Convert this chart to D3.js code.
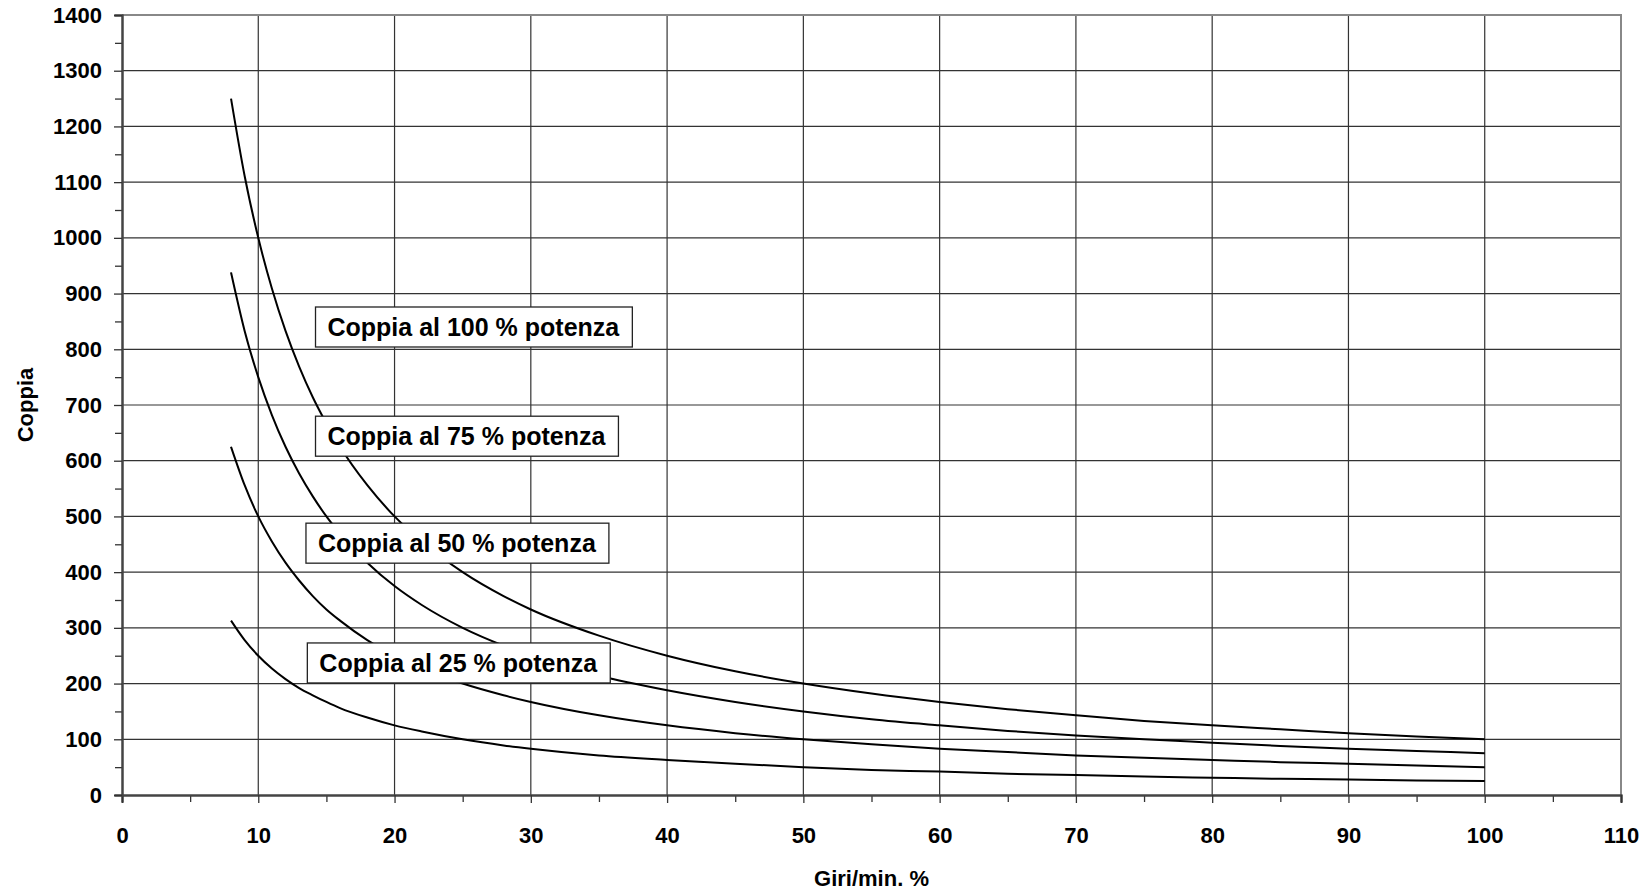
<!DOCTYPE html>
<html>
<head>
<meta charset="utf-8">
<script src="https://cdn.jsdelivr.net/npm/d3@7"></script>
<style>
  body { margin: 0; background: #fff; }
  svg text { font-family: "Liberation Sans", Arial, sans-serif; font-weight: bold; fill: #000; }
</style>
</head>
<body>
<svg width="1652" height="891"></svg>
<script>
// Giri/min. % (x)
const giri = [8, 9, 10, 11, 12, 13, 14, 15, 16, 18, 20, 22, 25, 28, 30, 35, 40, 45, 50, 55, 60, 65, 70, 75, 80, 85, 90, 95, 100]

// Coppia for each power level
const coppia100 = [1250, 1111, 1000, 909, 833, 769, 714, 667, 625, 556, 500, 455, 400, 357, 333, 286, 250, 222, 200, 182, 167, 154, 143, 133, 125, 118, 111, 105, 100]
const coppia75 = [938, 833, 750, 682, 625, 577, 536, 500, 469, 417, 375, 341, 300, 268, 250, 214, 188, 167, 150, 136, 125, 115, 107, 100, 94, 88, 83, 79, 75]
const coppia50 = [625, 556, 500, 455, 417, 385, 357, 333, 313, 278, 250, 227, 200, 179, 167, 143, 125, 111, 100, 91, 83, 77, 71, 67, 63, 59, 56, 53, 50]
const coppia25 = [313, 278, 250, 227, 208, 192, 179, 167, 156, 139, 125, 114, 100, 89, 83, 71, 63, 56, 50, 45, 42, 38, 36, 33, 31, 29, 28, 26, 25]

// label boxes: text and anchor (left x, centre y) in data units
const labelTexts = ["Coppia al 100 % potenza", "Coppia al 75 % potenza", "Coppia al 50 % potenza", "Coppia al 25 % potenza"]
const labelX = [14.2, 14.2, 13.5, 13.6]
const labelY = [840, 644, 452, 237]

const xTicks = d3.range(0, 111, 10)
const yTicks = d3.range(0, 1401, 100)

const series = [coppia100, coppia75, coppia50, coppia25]

const margin = { left: 122, right: 31, top: 15, bottom: 96 }
const W = 1652, H = 891
const w = W - margin.left - margin.right
const h = H - margin.top - margin.bottom

const svg = d3.select('svg')

const x = d3.scaleLinear().domain([0, 110]).range([margin.left, margin.left + w])
const y = d3.scaleLinear().domain([0, 1400]).range([margin.top + h, margin.top])

// grid
const grid = svg.append('g').attr('class', 'grid')
grid.selectAll('line.h')
  .data(yTicks.slice(1))
  .enter().append('line')
  .attr('x1', x(0)).attr('x2', x(110))
  .attr('y1', d => y(d)).attr('y2', d => y(d))
  .attr('stroke', '#333').attr('stroke-width', 1.2)
grid.selectAll('line.v')
  .data(xTicks.slice(1))
  .enter().append('line')
  .attr('x1', d => x(d)).attr('x2', d => x(d))
  .attr('y1', y(0)).attr('y2', y(1400))
  .attr('stroke', '#333').attr('stroke-width', 1.2)

// top and right border
svg.append('path')
  .attr('d', `M${x(0)},${y(1400)}H${x(110)}V${y(0)}`)
  .attr('fill', 'none').attr('stroke', '#888').attr('stroke-width', 2)

// axes
const fmt = d3.format('d')
const xAxis = d3.axisBottom(x).tickValues(xTicks).tickSize(8).tickPadding(24).tickFormat(fmt)
const xMinor = d3.axisBottom(x).tickValues(d3.range(5, 110, 10)).tickSize(7).tickFormat('')
const yAxis = d3.axisLeft(y).tickValues(yTicks).tickSize(8).tickPadding(12).tickFormat(fmt)
const yMinor = d3.axisLeft(y).tickValues(d3.range(50, 1400, 100)).tickSize(7).tickFormat('')

function styleAxis(g) {
  g.select('.domain').attr('stroke', '#444').attr('stroke-width', 2)
  g.selectAll('.tick line').attr('stroke', '#333').attr('stroke-width', 1.3)
  g.selectAll('text').attr('font-size', 22).style('font-family', '"Liberation Sans", Arial, sans-serif').style('font-weight', 'bold')
}

svg.append('g').attr('transform', `translate(0,${y(0)})`).call(xMinor).call(styleAxis)
svg.append('g').attr('transform', `translate(0,${y(0)})`).call(xAxis).call(styleAxis)
svg.append('g').attr('transform', `translate(${x(0)},0)`).call(yMinor).call(styleAxis)
svg.append('g').attr('transform', `translate(${x(0)},0)`).call(yAxis).call(styleAxis)

// curves
const line = d3.line()
  .x((d, i) => x(giri[i]))
  .y(d => y(d))
  .curve(d3.curveMonotoneX)

svg.selectAll('path.curve')
  .data(series)
  .enter().append('path')
  .attr('class', 'curve')
  .attr('d', d => line(d))
  .attr('fill', 'none')
  .attr('stroke', '#000')
  .attr('stroke-width', 2)

// labels with boxes
labelTexts.forEach((t, i) => {
  const g = svg.append('g')
  const txt = g.append('text')
    .text(t)
    .attr('x', x(labelX[i]) + 12)
    .attr('y', y(labelY[i]))
    .attr('dy', '0.36em')
    .attr('font-size', 25)
  const bb = txt.node().getBBox()
  g.insert('rect', 'text')
    .attr('x', bb.x - 12)
    .attr('y', y(labelY[i]) - 20)
    .attr('width', bb.width + 24)
    .attr('height', 40)
    .attr('fill', '#fff')
    .attr('stroke', '#222')
    .attr('stroke-width', 1.3)
})

// axis titles
svg.append('text')
  .text('Giri/min. %')
  .attr('x', x(55))
  .attr('y', 886)
  .attr('text-anchor', 'middle')
  .attr('font-size', 22)

svg.append('text')
  .text('Coppia')
  .attr('transform', `translate(33,${y(700)}) rotate(-90)`)
  .attr('text-anchor', 'middle')
  .attr('font-size', 22)
</script>
</body>
</html>
